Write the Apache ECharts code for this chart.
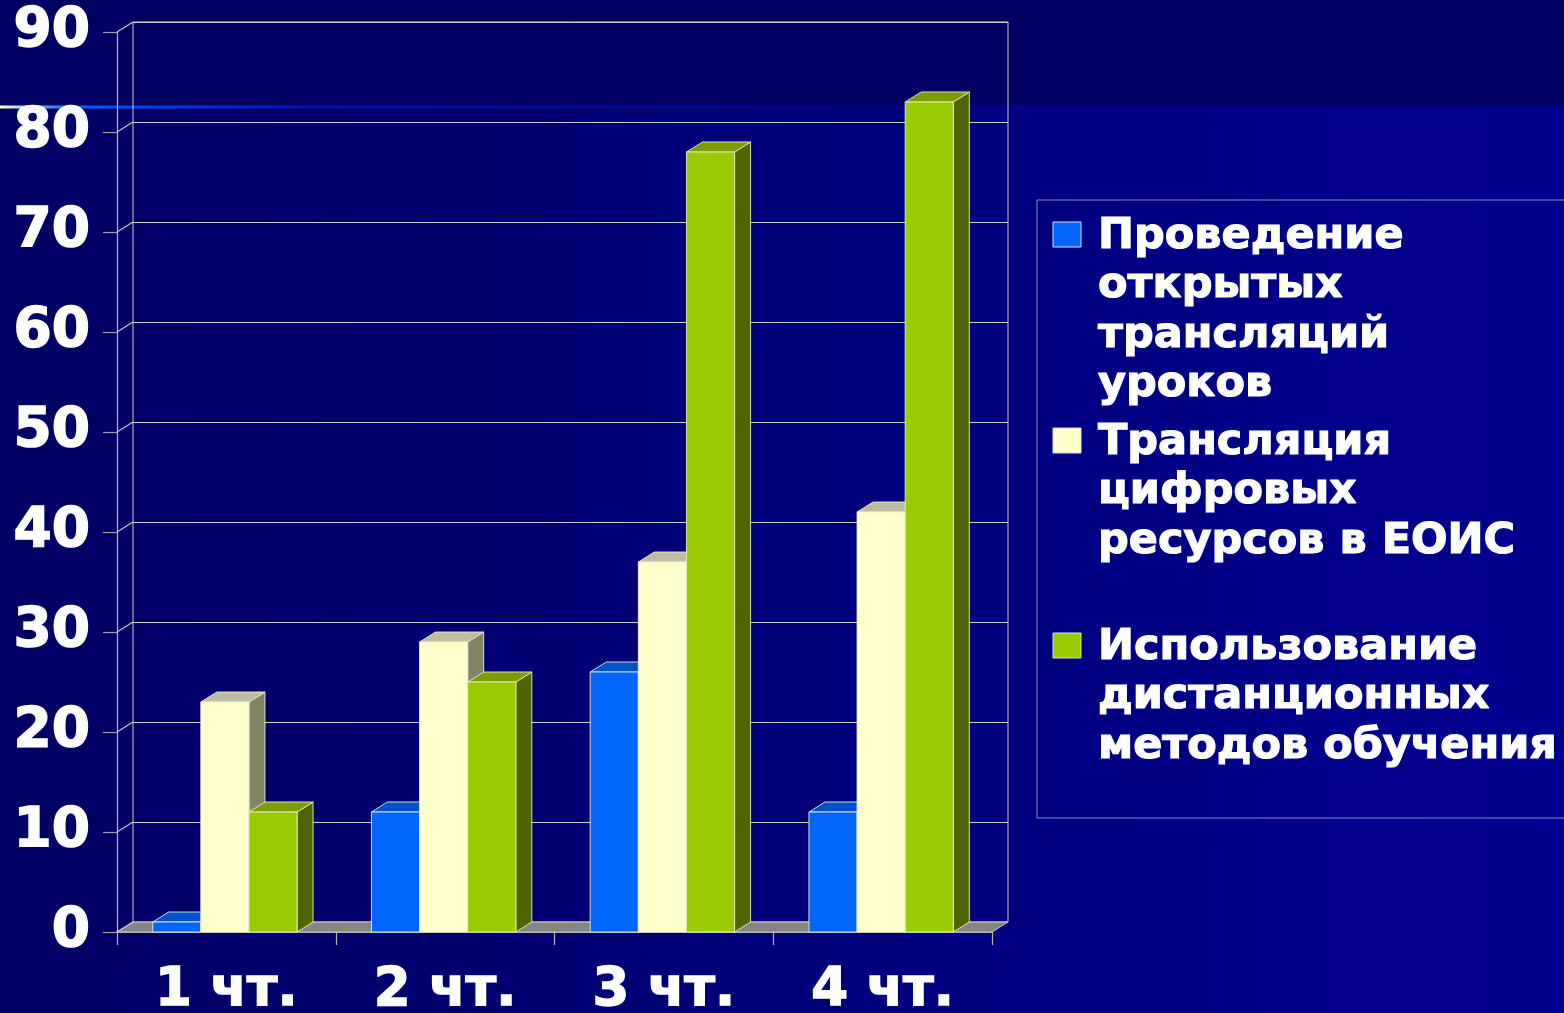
<!DOCTYPE html>
<html>
<head>
<meta charset="utf-8">
<script src="https://cdn.jsdelivr.net/npm/echarts@6/dist/echarts.min.js"></script>
<style>
html,body{margin:0;padding:0;background:#000066;overflow:hidden;}
#c{width:1564px;height:1013px;}
</style>
</head>
<body>
<div id="c"></div>
<script>
// ---- data ----
const categories = ['1 чт.', '2 чт.', '3 чт.', '4 чт.'];
const seriesNames = [
  'Проведение\nоткрытых\nтрансляций\nуроков',
  'Трансляция\nцифровых\nресурсов в ЕОИС',
  'Использование\nдистанционных\nметодов обучения'
];
const openLessons = [1, 12, 26, 12];
const digitalResources = [23, 29, 37, 42];
const distanceLearning = [12, 25, 78, 83];
const yTicks = [0, 10, 20, 30, 40, 50, 60, 70, 80, 90];

// ---- style ----
const DX = 16, DY = -10;
const FONT = '"DejaVu Sans", Verdana, sans-serif';
const palettes = [
  { front: '#0066FF', top: '#0052CC', side: '#003C99' },
  { front: '#FFFFCC', top: '#BDBDA2', side: '#838368' },
  { front: '#99CC00', top: '#7A9C00', side: '#4F6600' }
];
const BAR_RATIO = 0.22;
const EDGE = 'rgba(235,235,210,0.9)';

const chart = echarts.init(document.getElementById('c'), null, { renderer: 'canvas' });

function barSeries(name, values, k) {
  return {
    name: name,
    type: 'custom',
    xAxisIndex: 0, yAxisIndex: 0,
    z: 3,
    data: values.map((v, i) => [i, v]),
    encode: { x: 0, y: 1 },
    renderItem: function (params, api) {
      const ci = api.value(0), v = api.value(1);
      const base = api.coord([ci, 0]);
      const top = api.coord([ci, v]);
      const band = api.size([1, 0])[0];
      const bw = band * BAR_RATIO;
      const x0 = base[0] - 1.5 * bw + k * bw - 1.5;
      const by = base[1], ty = top[1];
      const p = palettes[k];
      return {
        type: 'group',
        children: [
          { type: 'polygon', shape: { points: [[x0 + bw, ty], [x0 + bw + DX, ty + DY], [x0 + bw + DX, by + DY], [x0 + bw, by]] },
            style: { fill: p.side, stroke: EDGE, lineWidth: 1 } },
          { type: 'polygon', shape: { points: [[x0, ty], [x0 + bw, ty], [x0 + bw + DX, ty + DY], [x0 + DX, ty + DY]] },
            style: { fill: p.top, stroke: EDGE, lineWidth: 1 } },
          { type: 'rect', shape: { x: x0, y: ty, width: bw, height: by - ty },
            style: { fill: p.front, stroke: EDGE, lineWidth: 1 } }
        ]
      };
    }
  };
}

const floorSeries = {
  type: 'custom',
  xAxisIndex: 0, yAxisIndex: 0,
  z: 1,
  silent: true,
  data: yTicks.map(v => [0, v]),
  encode: { x: 0, y: 1 },
  renderItem: function (params, api) {
    const v = api.value(1);
    const band = api.size([1, 0])[0];
    const c0 = api.coord([0, v]);
    const left = c0[0] - band / 2;
    const children = [];
    if (v === 0) {
      const cl = api.coord([categories.length - 1, 0]);
      const right = cl[0] + band / 2;
      children.push({ type: 'polygon', shape: { points: [[left, c0[1]], [left + DX, c0[1] + DY], [right + DX, c0[1] + DY], [right, c0[1]]] },
        style: { fill: '#858585', stroke: '#C8C8C8', lineWidth: 1 } });
    }
    children.push({ type: 'line', shape: { x1: left, y1: c0[1], x2: left + DX, y2: c0[1] + DY },
      style: { stroke: '#C8C8C8', lineWidth: 1.2 } });
    return { type: 'group', children: children };
  }
};

// legend drawn as graphics
const legendEls = [];
legendEls.push({ type: 'rect', shape: { x: 1037, y: 200, width: 600, height: 618 },
  style: { fill: 'none', stroke: '#8C8CB4', lineWidth: 1 }, z: 10 });
const itemTop = [234, 440, 645];
seriesNames.forEach((n, k) => {
  legendEls.push({ type: 'rect', shape: { x: 1053, y: itemTop[k] - 12, width: 28, height: 25 },
    style: { fill: palettes[k].front, stroke: '#DDDDDD', lineWidth: 1 }, z: 10 });
  legendEls.push({ type: 'text', x: 1098, y: itemTop[k] - 22, z: 10,
    style: { text: n, fill: '#FFFFFF', font: 'bold 43px ' + FONT, lineHeight: 49.5, verticalAlign: 'top', align: 'left',
      stroke: '#FFFFFF', lineWidth: 1.2 } });
});

const option = {
  backgroundColor: '#000066',
  animation: false,
  graphic: {
    elements: [
      { type: 'rect', shape: { x: 0, y: 0, width: 1564, height: 1013 }, z: -100, silent: true,
        style: { fill: new echarts.graphic.LinearGradient(0, 0, 1, 0, [{ offset: 0, color: '#000064' }, { offset: 1, color: '#000090' }]) } },
      { type: 'rect', shape: { x: 0, y: 0, width: 1564, height: 107 }, z: -99, silent: true,
        style: { fill: '#000062' } },
      { type: 'rect', shape: { x: 0, y: 105.5, width: 1564, height: 3 }, z: -98, silent: true,
        style: { fill: new echarts.graphic.LinearGradient(0, 0, 1, 0, [
          { offset: 0, color: '#FFFFCC' }, { offset: 0.045, color: '#0066FF' }, { offset: 0.09, color: '#0044EE' },
          { offset: 0.2, color: '#0010B0' }, { offset: 0.5, color: '#000090' }, { offset: 1, color: '#000088' }]) } }
    ].concat(legendEls)
  },
  grid: [
    { left: 117, top: 32, width: 875, height: 900, show: false, outerBoundsMode: 'none', containLabel: false },
    { left: 133, top: 22, width: 875, height: 900, show: true, borderColor: '#C8C8C8', borderWidth: 1,
      backgroundColor: 'transparent', outerBoundsMode: 'none', containLabel: false }
  ],
  xAxis: [
    { type: 'category', gridIndex: 0, data: categories, boundaryGap: true,
      axisLine: { show: true, lineStyle: { color: '#C8C8C8', width: 1.5 } },
      axisTick: { show: true, length: 13, lineStyle: { color: '#B0B0B0', width: 1.2 } },
      axisLabel: { color: '#FFFFFF', fontSize: 53, fontWeight: 'bold', fontFamily: FONT, margin: 33, interval: 0,
        textBorderColor: '#FFFFFF', textBorderWidth: 1.5 },
      splitLine: { show: false } },
    { type: 'category', gridIndex: 1, data: categories, show: false }
  ],
  yAxis: [
    { type: 'value', gridIndex: 0, min: 0, max: 90, interval: 10,
      axisLine: { show: true, lineStyle: { color: '#B8B8B8', width: 1.2 } },
      axisTick: { show: true, length: 14, lineStyle: { color: '#A0A0A0', width: 1.2 } },
      axisLabel: { color: '#FFFFFF', fontSize: 55, fontWeight: 'bold', fontFamily: FONT, margin: 27,
        textBorderColor: '#FFFFFF', textBorderWidth: 1.5, padding: [11, 0, 0, 0] },
      splitLine: { show: false } },
    { type: 'value', gridIndex: 1, min: 0, max: 90, interval: 10,
      axisLine: { show: false }, axisTick: { show: false }, axisLabel: { show: false },
      splitLine: { show: true, lineStyle: { color: '#D0D0D0', width: 1 } } }
  ],
  series: [
    floorSeries,
    barSeries(seriesNames[0], openLessons, 0),
    barSeries(seriesNames[1], digitalResources, 1),
    barSeries(seriesNames[2], distanceLearning, 2)
  ]
};
chart.setOption(option);
</script>
</body>
</html>
